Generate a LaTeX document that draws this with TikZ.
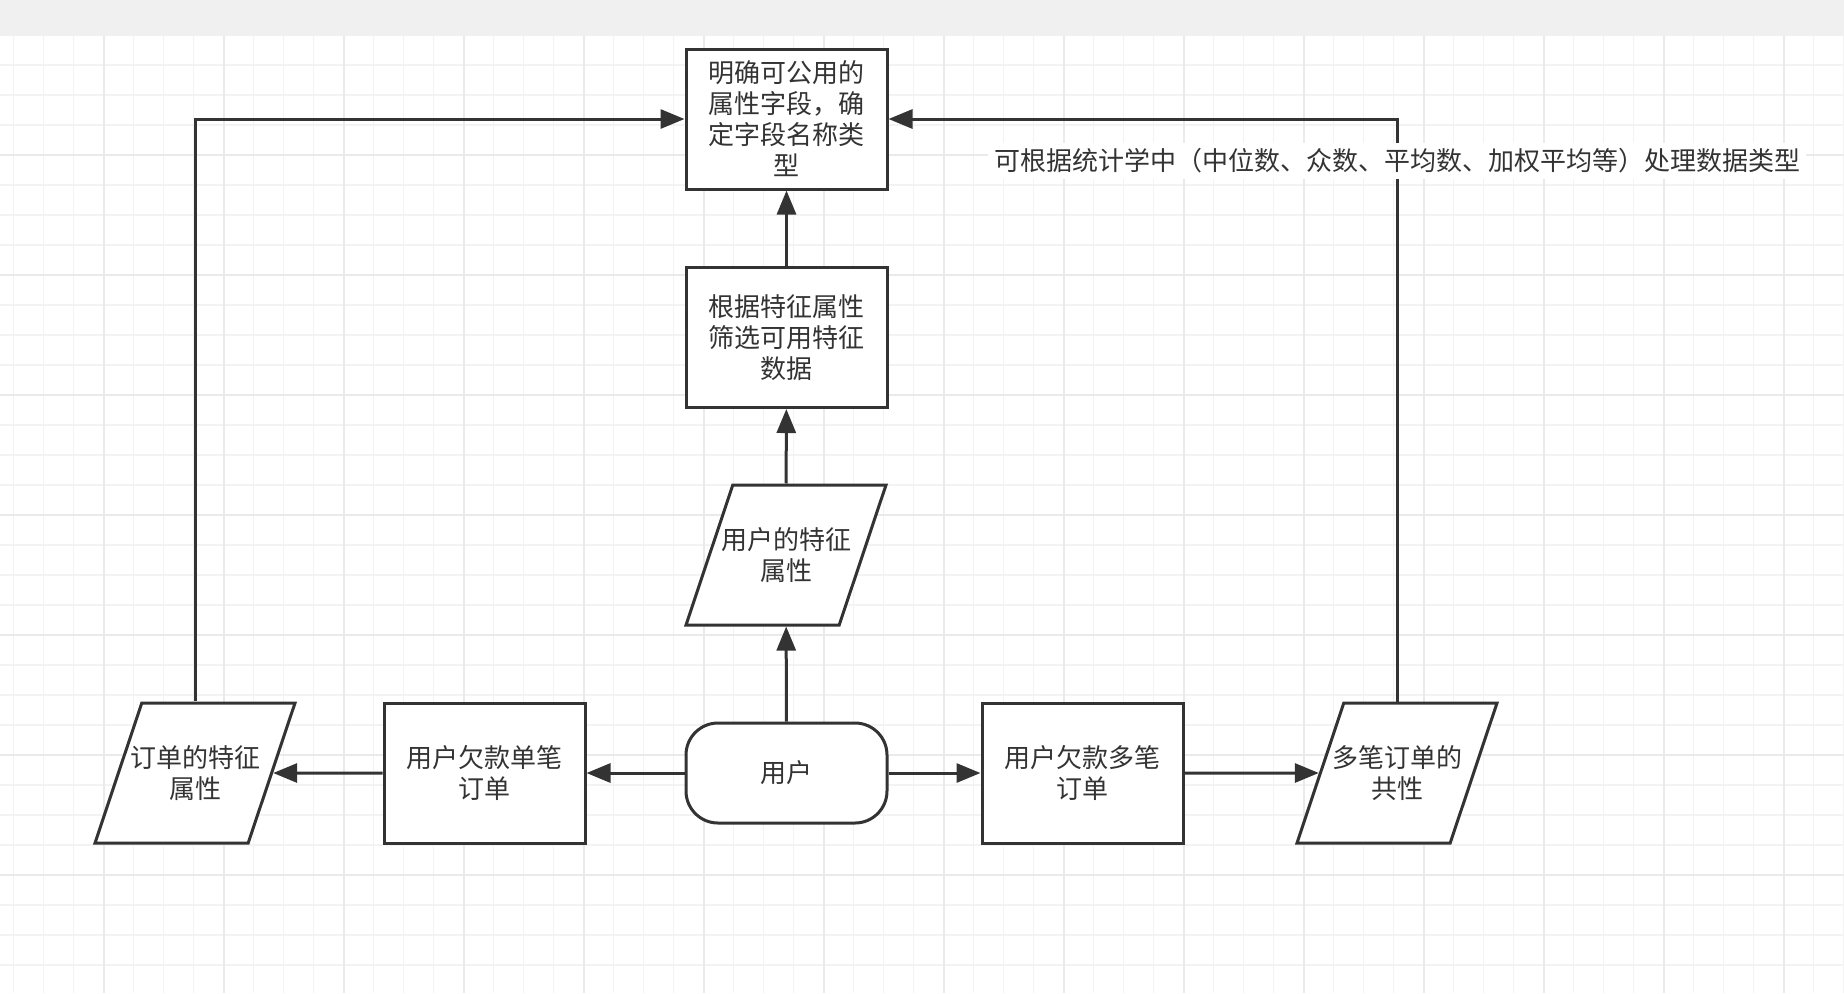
\documentclass[tikz,border=0pt]{standalone}
\usepackage{fontspec}
\setmainfont{Noto Sans CJK SC}
\usetikzlibrary{shapes.geometric,arrows.meta}
\definecolor{ink}{HTML}{333333}
\definecolor{band}{HTML}{F0F0F0}
\definecolor{minorgrid}{HTML}{F3F3F3}
\definecolor{majorgrid}{HTML}{EAEAEA}

\begin{document}
\begin{tikzpicture} [
  x=0.5pt, y=-0.5pt,
  every node/.style={font=\fontsize{13pt}{15.5pt}\selectfont, text=ink},
  block/.style={rectangle, draw=ink, line width=1.5pt, fill=white,
    minimum width=100.5pt, minimum height=70pt, align=center, inner sep=2pt},
  io/.style={trapezium, trapezium left angle=71.4, trapezium right angle=108.6,
    trapezium stretches body=true, draw=ink, line width=1.5pt, fill=white,
    minimum width=100pt, minimum height=70pt, align=center,
    inner xsep=-6pt, inner ysep=21pt},
  terminal/.style={block, rounded corners=16pt, minimum height=50pt},
  arr/.style={draw=ink, line width=1.5pt, -{Triangle[length=12pt,width=9.5pt]}}]

% canvas
\useasboundingbox (0,0) rectangle (1844,993);
\fill[white] (0,0) rectangle (1844,993);
\fill[band] (0,0) rectangle (1844,36);
\foreach \gx in {0,...,61}
  \draw[minorgrid, line width=0.75pt] ({13.6+30*\gx},36) -- ({13.6+30*\gx},993);
\foreach \gy in {1,...,32}
  \draw[minorgrid, line width=0.75pt] (0,{35+30*\gy}) -- (1844,{35+30*\gy});
\foreach \gx in {0,...,15}
  \draw[majorgrid, line width=0.9pt] ({103.6+120*\gx},36) -- ({103.6+120*\gx},993);
\foreach \gy in {1,...,8}
  \draw[majorgrid, line width=0.9pt] (0,{35+120*\gy}) -- (1844,{35+120*\gy});

% nodes
\node[block] (fields) at (786.5,119) {明确可公用的\\属性字段，确\\定字段名称类\\型};
\node[block] (filter) at (786.5,337.5) {根据特征属性\\筛选可用特征\\数据};
\node[io] (userfeat) at (786,555) {用户的特征\\属性};
\node[terminal] (user) at (786.5,773) {用户};
\node[block] (single) at (484.5,773) {用户欠款单笔\\订单};
\node[io] (orderfeat) at (195,773) {订单的特征\\属性};
\node[block] (multi) at (1082.5,773) {用户欠款多笔\\订单};
\node[io] (common) at (1397,773) {多笔订单的\\共性};

% connectors
\draw[arr] (user) -- (userfeat);
\draw[arr] (userfeat) -- (filter);
\draw[arr] (filter) -- (fields);
\draw[arr] (user) -- (single);
\draw[arr] (single) -- (orderfeat);
\draw[arr] (user) -- (multi);
\draw[arr] (multi) -- (common);
\draw[arr] (orderfeat) |- (fields);
\draw[arr] (common) |- node[pos=0.464, fill=white, inner sep=3pt] (stats)
  {可根据统计学中（中位数、众数、平均数、加权平均等）处理数据类型} (fields);
\end{tikzpicture}
\end{document}
